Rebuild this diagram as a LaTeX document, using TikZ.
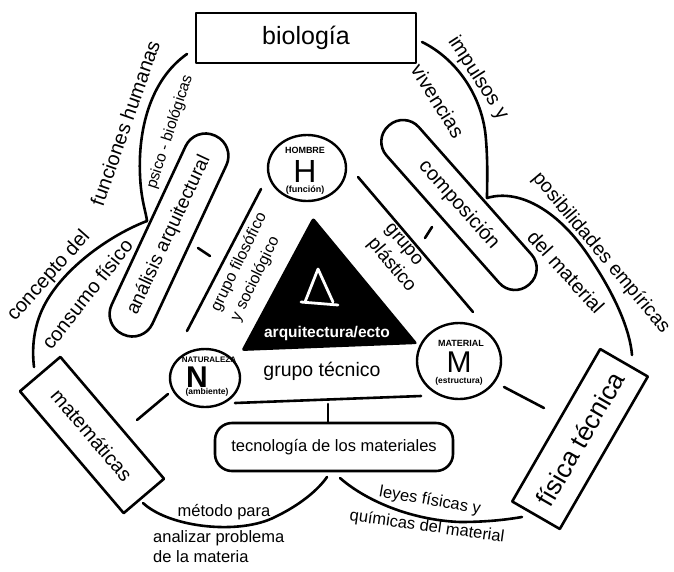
\documentclass[tikz,border=0pt]{standalone}
\usepackage{fontspec}
\setmainfont{Liberation Sans}
\usetikzlibrary{shapes.geometric}
\begin{document}
\begin{tikzpicture}[x=1pt,y=-1pt,
  ln/.style={line width=2.6pt, line cap=round, line join=round},
  box/.style={draw, line width=2.6pt, inner sep=0pt, line join=round},
  pill/.style={draw, line width=2.6pt, inner sep=0pt},
  circ/.style={draw, ellipse, line width=2.4pt, inner sep=0pt},
  lab/.style={font=\fontsize{20}{22}\selectfont, inner sep=0pt},
  mid/.style={font=\fontsize{16.5}{20}\selectfont, inner sep=0pt},
  tiny/.style={font=\bfseries\fontsize{9}{10}\selectfont, inner sep=0pt},
  big/.style={font=\fontsize{32}{32}\selectfont, inner sep=0pt},
]
\useasboundingbox (0,0) rectangle (674,571);

% ---------- boxes ----------
\node[box, minimum width=220pt, minimum height=50pt, font=\fontsize{25}{28}\selectfont] (bio) at (306,38) {biología};
\node[box, rotate=-49.6, minimum width=160pt, minimum height=53pt, font=\fontsize{20}{24}\selectfont] (mat) at (92,435) {matemáticas};
\node[box, rotate=60, minimum width=176pt, minimum height=55pt, font=\fontsize{26}{28}\selectfont] (fis) at (580,439) {física técnica};

% ---------- pills ----------
\node[pill, rounded corners=22pt, rotate=65, minimum width=219pt, minimum height=45pt, font=\fontsize{19}{22}\selectfont] (ana) at (169,235) {análisis arquitectural};
\node[pill, rounded corners=21pt, rotate=-48.5, minimum width=212pt, minimum height=43pt, font=\fontsize{20}{22}\selectfont] (comp) at (459,205) {composición};
\node[pill, rounded corners=17pt, minimum width=238pt, minimum height=48pt, font=\fontsize{16.5}{20}\selectfont] (tec) at (334,447) {tecnología de los materiales};

% ---------- circles ----------
\node[circ, minimum width=78pt, minimum height=66pt] (H) at (307,168) {};
\node[tiny] (Ht) at (305,150) {HOMBRE};
\node[big] (Hl) at (305,171) {H};
\node[tiny] (Hb) at (305,190) {(función)};

\node[circ, minimum width=70pt, minimum height=58pt] (N) at (205,378) {};
\node[tiny, font=\bfseries\fontsize{8}{9}\selectfont] (Nt) at (209,360) {NATURALEZA};
\node[big, font=\bfseries\fontsize{30}{30}\selectfont] (Nl) at (197,377) {N};
\node[tiny, font=\bfseries\fontsize{8.5}{9}\selectfont] (Nb) at (207,392) {(ambiente)};

\node[circ, minimum width=84pt, minimum height=76pt] (M) at (459,361) {};
\node[tiny] (Mt) at (461,343) {MATERIAL};
\node[big, font=\fontsize{30}{30}\selectfont] (Ml) at (459,362) {M};
\node[tiny, font=\bfseries\fontsize{8.5}{9}\selectfont] (Mb) at (459,381) {(estructura)};

% ---------- central triangle ----------
\coordinate (t1) at (313,217);
\coordinate (t2) at (241,351);
\coordinate (t3) at (418,344);
\fill[rounded corners=3pt] (t1) -- (t2) -- (t3) -- cycle;
\coordinate (a0) at (318,269);
\coordinate (a1) at (305,302);
\coordinate (a2) at (333,302);
\coordinate (a3) at (301,302);
\coordinate (a4) at (338,305);
\draw[white, line width=2.8pt, line cap=round, line join=round] (a1) -- (a0) -- (a2);
\draw[white, line width=2.8pt, line cap=round] (a3) -- (a4);
\node[font=\bfseries\fontsize{15.5}{16}\selectfont, text=white, inner sep=0pt] (arq) at (327,333) {arquitectura/ecto};

% ---------- group lines and ticks ----------
\coordinate (gf1) at (261,189); \coordinate (gf2) at (187,331);
\draw[ln] (gf1) -- (gf2);
\coordinate (tk1) at (198,248); \coordinate (tk2) at (210,256);
\draw[ln] (tk1) -- (tk2);
\coordinate (gp1) at (358,177); \coordinate (gp2) at (473,312);
\draw[ln] (gp1) -- (gp2);
\coordinate (tk3) at (432,227); \coordinate (tk4) at (425,238);
\draw[ln] (tk3) -- (tk4);
\coordinate (gt1) at (235,403); \coordinate (gt2) at (421,396);
\draw[ln] (gt1) -- (gt2);
\coordinate (tk5) at (328,404);
\draw[ln] (tk5) -- (tk5 |- tec.north);
\coordinate (nm1) at (168,394); \coordinate (nm2) at (137,420);
\draw[ln] (nm1) -- (nm2);
\coordinate (mf1) at (504,387); \coordinate (mf2) at (544,408);
\draw[ln] (mf1) -- (mf2);

% ---------- big curves ----------
\coordinate (L0) at (187,54);
\coordinate (Lc) at (147,221);
\coordinate (L1) at (34,367);
\draw[ln] (L0) .. controls (150,80) and (138,130) .. (140,175) .. controls (141,200) and (146,212) .. (Lc);
\draw[ln] (Lc) .. controls (110,235) and (60,270) .. (42,310) .. controls (33,330) and (32,350) .. (L1);

\coordinate (R0) at (422,42);
\coordinate (Rc) at (487,198);
\coordinate (R1) at (632,355);
\draw[ln] (R0) .. controls (455,58) and (483,95) .. (486,140) .. controls (488,165) and (487,185) .. (Rc);
\draw[ln] (Rc) .. controls (520,188) and (560,212) .. (590,258) .. controls (615,295) and (630,330) .. (R1);

\coordinate (B0) at (143,503);
\coordinate (B1) at (327,477);
\draw[ln] (B0) .. controls (170,528) and (240,535) .. (275,517) .. controls (300,505) and (318,490) .. (B1);
\coordinate (B2) at (340,478);
\coordinate (B3) at (522,517);
\draw[ln] (B2) .. controls (365,500) and (410,520) .. (460,522) .. controls (490,522) and (510,519) .. (B3);

% ---------- labels ----------
\node[lab, rotate=70.7] (l1) at (125,123) {funciones humanas};
\node[lab, font=\fontsize{15.5}{18}\selectfont, rotate=72] (l2) at (170,132) {psico - biológicas};
\node[lab, rotate=48.4] (l3) at (49,276) {concepto del};
\node[lab, rotate=51.7] (l4) at (87,294) {consumo físico};
\node[lab, rotate=-57] (l5) at (478,78) {impulsos y};
\node[lab, rotate=-58] (l6) at (438,101) {vivencias};
\node[lab, font=\fontsize{19.5}{22}\selectfont, rotate=-50] (l7) at (601,253) {posibilidades empíricas};
\node[lab, rotate=-48] (l8) at (566,272) {del material};
\node[inner sep=0pt, font=\fontsize{16}{22}\selectfont, align=left, rotate=64] (l9) at (249,267) {grupo filosófico\\y sociológico};
\node[inner sep=0pt, font=\fontsize{19}{23}\selectfont, align=left, rotate=-50] (l10) at (399,259) {grupo\\plástico};
\node[inner sep=0pt, font=\fontsize{19.5}{22}\selectfont] (l11) at (322,371) {grupo técnico};
\node[mid] (l12) at (224,512) {método para};
\node[mid, align=left, anchor=west] (l13) at (153,547) {analizar problema\\de la materia};
\node[mid, rotate=-10] (l14) at (430,501) {leyes físicas y};
\node[mid, rotate=-8] (l15) at (427,527) {químicas del material};
\end{tikzpicture}
\end{document}
